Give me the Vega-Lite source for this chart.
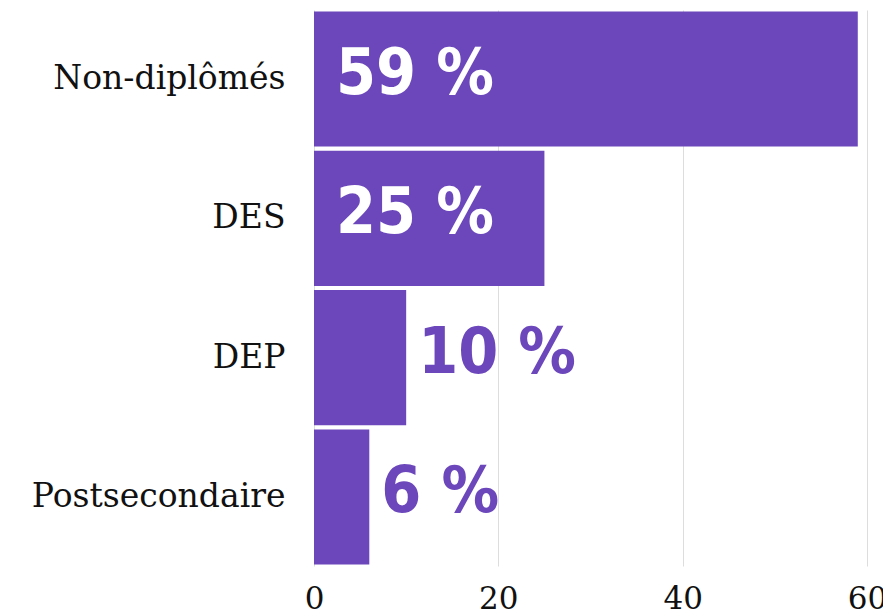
{
  "$schema": "https://vega.github.io/schema/vega-lite/v6.json",
  "autosize": "none",
  "width": 553,
  "height": 556,
  "padding": {"left": 314, "top": 10, "right": 16, "bottom": 50},
  "background": "white",
  "config": {"view": {"stroke": null}},
  "data": {
    "values": [
      {"cat": "Non-diplômés", "value": 59, "label": "59 %"},
      {"cat": "DES", "value": 25, "label": "25 %"},
      {"cat": "DEP", "value": 10, "label": "10 %"},
      {"cat": "Postsecondaire", "value": 6, "label": "6 %"}
    ]
  },
  "encoding": {
    "y": {
      "field": "cat", "type": "nominal", "sort": null, "title": null,
      "scale": {"paddingInner": 0.03, "paddingOuter": 0.01},
      "axis": {"domain": false, "ticks": false, "labelFontSize": 33, "labelFont": "DejaVu Serif", "labelColor": "#111", "labelPadding": 29, "labelFontWeight": "normal", "labelLimit": 320}
    }
  },
  "layer": [
    {
      "mark": {"type": "bar", "color": "#6b47bb"},
      "encoding": {
        "x": {
          "field": "value", "type": "quantitative", "title": null,
          "scale": {"domain": [0, 60], "nice": false},
          "axis": {"values": [0, 20, 40, 60], "domain": false, "ticks": false, "gridColor": "#dddddd", "labelFontSize": 31, "labelFont": "DejaVu Serif", "labelColor": "#111", "labelPadding": 18, "labelFlush": false}
        }
      }
    },
    {
      "transform": [{"filter": "datum.value > 15"}],
      "mark": {"type": "text", "align": "left", "baseline": "middle", "dx": 22, "dy": -4, "font": "DejaVu Sans Condensed", "fontWeight": "bold", "fontSize": 64, "color": "white"},
      "encoding": {
        "x": {"datum": 0, "type": "quantitative"},
        "text": {"field": "label"}
      }
    },
    {
      "transform": [{"filter": "datum.value <= 15"}],
      "mark": {"type": "text", "align": "left", "baseline": "middle", "dx": 12, "dy": -4, "font": "DejaVu Sans Condensed", "fontWeight": "bold", "fontSize": 64, "color": "#6b47bb"},
      "encoding": {
        "x": {"field": "value", "type": "quantitative"},
        "text": {"field": "label"}
      }
    }
  ]
}
